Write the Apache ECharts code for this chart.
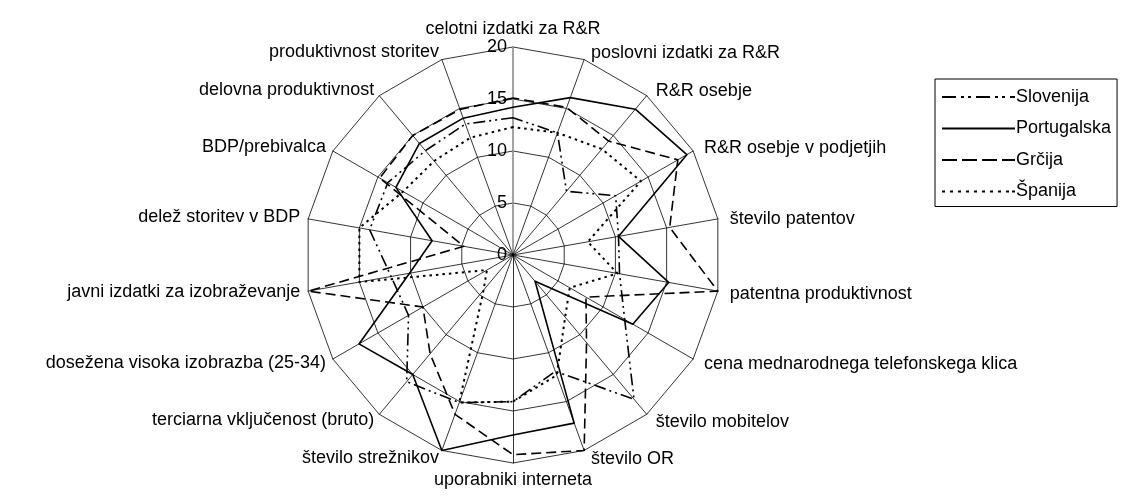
<!DOCTYPE html>
<html>
<head>
<meta charset="utf-8">
<script src="https://cdn.jsdelivr.net/npm/echarts@6/dist/echarts.min.js"></script>
<style>
* { padding: 0; margin: 0; }
body { background: #fff; }
</style>
</head>
<body>
<div id="chart" style="width: 1128px; height: 498px"></div>
<script>
// indicators, clockwise from the top
var indicators = [
  "celotni izdatki za R&R",
  "poslovni izdatki za R&R",
  "R&R osebje",
  "R&R osebje v podjetjih",
  "število patentov",
  "patentna produktivnost",
  "cena mednarodnega telefonskega klica",
  "število mobitelov",
  "število OR",
  "uporabniki interneta",
  "število strežnikov",
  "terciarna vključenost (bruto)",
  "dosežena visoka izobrazba (25-34)",
  "javni izdatki za izobraževanje",
  "delež storitev v BDP",
  "BDP/prebivalca",
  "delovna produktivnost",
  "produktivnost storitev"
];
var seriesNames = ["Slovenija", "Portugalska", "Grčija", "Španija"];

var slovenija   = [13.2, 12.5, 8.0, 11.4, 10.3, 10.4, 12.4, 18.1, 11.9, 14.1, 15.1, 15.9, 11.6, 11.9, 14.0, 13.9, 13.1, 13.4];
var portugalska = [14.2, 16.1, 18.3, 19.3, 10.3, 15.2, 13.3, 3.3, 17.2, 17.3, 20.0, 15.0, 17.1, 10.1, 7.9, 13.0, 14.0, 14.0];
var grcija      = [15.1, 15.1, 14.3, 18.3, 15.3, 20.0, 8.1, 11.0, 20.0, 19.2, 16.3, 12.4, 10.0, 20.0, 4.8, 14.8, 15.0, 14.9];
var spanija     = [12.3, 12.5, 13.3, 14.2, 7.3, 10.2, 6.3, 7.8, 12.3, 14.1, 15.1, 4.4, 2.9, 15.0, 15.0, 12.2, 11.8, 12.0];

var maxValue = 20;

// echarts radar runs counter-clockwise, so reverse all but the first
function reorder(arr) {
  return [arr[0]].concat(arr.slice(1).reverse());
}

var chart = echarts.init(document.getElementById("chart"));

var indicatorList = reorder(indicators).map(function (name, i) {
  var item = { name: name, max: maxValue, min: 0 };
  if (i === 0) {
    item.axisLabel = { show: true };
    item.axisLine = { lineStyle: { color: "#8c8c8c", width: 1.6 } };
  }
  return item;
});

// names on the right half sit a bit further out in the original
var rightSide = indicators.slice(1, 9);

// legend icons, drawn as little bars (width 73, height 2)
var legendIcons = {
  "Slovenija": "path://M0,0h14v2h-14z M19,0h3v2h-3z M26,0h3v2h-3z M34,0h14v2h-14z M53,0h3v2h-3z M60,0h3v2h-3z M68,0h5v2h-5z",
  "Portugalska": "path://M0,0h73v2h-73z",
  "Grčija": "path://M0,0h15v2h-15z M20,0h15v2h-15z M40,0h15v2h-15z M60,0h13v2h-13z",
  "Španija": "path://M0,0h3v2h-3z M8,0h3v2h-3z M16,0h3v2h-3z M24,0h3v2h-3z M32,0h3v2h-3z M40,0h3v2h-3z M48,0h3v2h-3z M56,0h3v2h-3z M64,0h3v2h-3z M70,0h3v2h-3z"
};

var lineTypes = {
  "Slovenija": [12, 4, 2, 4, 2, 4],
  "Portugalska": "solid",
  "Grčija": [10, 5],
  "Španija": [2.5, 4]
};
var dataMap = {
  "Slovenija": slovenija,
  "Portugalska": portugalska,
  "Grčija": grcija,
  "Španija": spanija
};

chart.setOption({
  animation: false,
  textStyle: { fontFamily: "Liberation Sans, Arial, sans-serif" },
  legend: {
    orient: "vertical",
    left: 935,
    top: 79,
    padding: [9, 6, 6, 7],
    itemGap: 13.5,
    itemWidth: 73,
    itemHeight: 2,
    symbolKeepAspect: false,
    borderColor: "#000",
    borderWidth: 1,
    textStyle: { fontSize: 18, color: "#000", padding: [0, 0, 0, -4] },
    data: seriesNames.map(function (n) {
      return { name: n, icon: legendIcons[n], itemStyle: { color: "#000" } };
    })
  },
  radar: {
    center: [513, 255],
    radius: 208,
    shape: "polygon",
    splitNumber: 4,
    startAngle: 90,
    nameGap: 8,
    axisName: {
      color: "#000",
      fontSize: 18,
      formatter: function (name) {
        return rightSide.indexOf(name) >= 0 ? "{r|" + name + "}" : name;
      },
      rich: {
        r: { color: "#000", fontSize: 18, padding: [3, 0, 0, 4] }
      }
    },
    axisLabel: {
      show: false,
      color: "#000",
      fontSize: 18,
      margin: 6
    },
    axisTick: { show: false },
    axisLine: { lineStyle: { color: "#000", width: 0.8 } },
    splitLine: { lineStyle: { color: "#000", width: 0.8 } },
    splitArea: { show: false },
    indicator: indicatorList
  },
  series: [
    {
      type: "radar",
      symbol: "none",
      data: seriesNames.map(function (n) {
        return {
          name: n,
          value: reorder(dataMap[n]),
          lineStyle: { color: "#000", width: n === "Španija" ? 2 : 1.6, type: lineTypes[n] },
          itemStyle: { color: "#000" }
        };
      })
    }
  ]
});
</script>
</body>
</html>
